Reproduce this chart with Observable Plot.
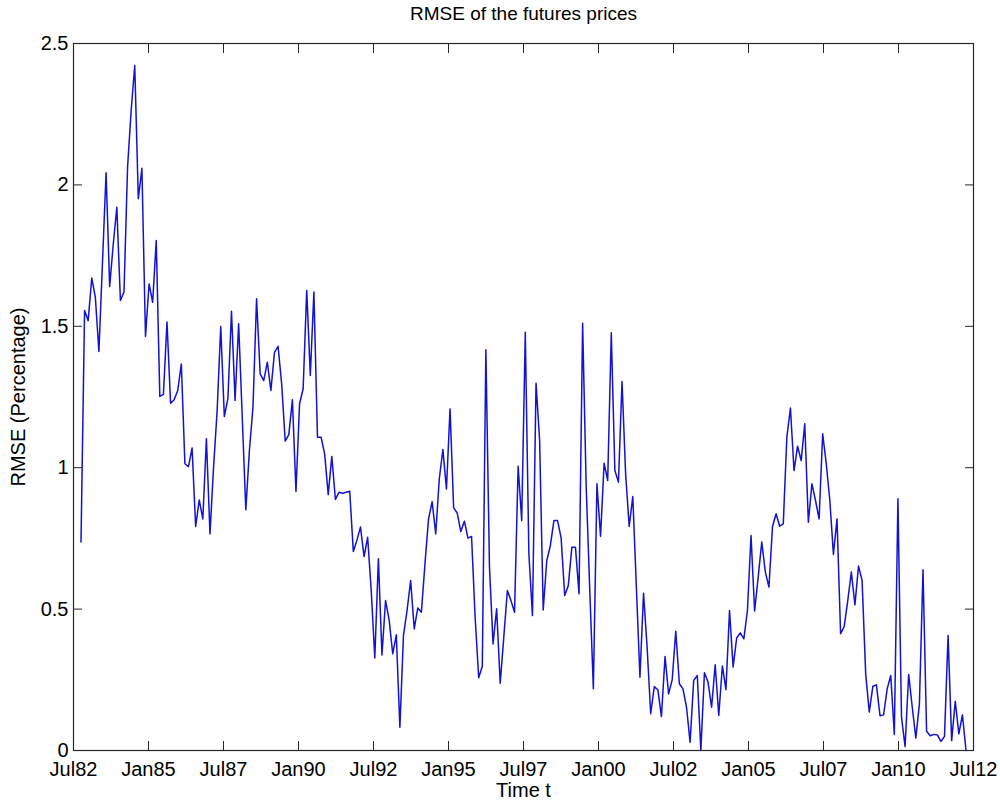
<!DOCTYPE html>
<html>
<head>
<meta charset="utf-8">
<script src="https://cdn.jsdelivr.net/npm/d3@7"></script>
<script src="https://cdn.jsdelivr.net/npm/@observablehq/plot@0.6"></script>
<style>
  html, body { margin: 0; padding: 0; background: #fff; }
  svg { display: block; }
</style>
</head>
<body>
<script>
// RMSE (percentage) of the futures prices
const rmse = [
  0.737, 1.556, 1.520, 1.671, 1.603, 1.411, 1.727, 2.043, 1.641, 1.790,
  1.921, 1.591, 1.621, 2.063, 2.263, 2.422, 1.951, 2.059, 1.464, 1.650,
  1.585, 1.803, 1.252, 1.259, 1.515, 1.228, 1.240, 1.273, 1.367, 1.014,
  1.004, 1.070, 0.792, 0.886, 0.819, 1.102, 0.766, 1.002, 1.202, 1.499,
  1.181, 1.244, 1.553, 1.238, 1.509, 1.179, 0.851, 1.061, 1.214, 1.597,
  1.332, 1.308, 1.373, 1.273, 1.408, 1.429, 1.297, 1.094, 1.117, 1.240,
  0.916, 1.226, 1.279, 1.627, 1.326, 1.621, 1.108, 1.108, 1.049, 0.905,
  1.040, 0.888, 0.913, 0.910, 0.913, 0.917, 0.704, 0.743, 0.790, 0.686,
  0.754, 0.566, 0.327, 0.678, 0.338, 0.530, 0.462, 0.342, 0.409, 0.082,
  0.407, 0.495, 0.601, 0.430, 0.504, 0.489, 0.660, 0.819, 0.880, 0.766,
  0.961, 1.064, 0.925, 1.208, 0.858, 0.840, 0.774, 0.811, 0.751, 0.757,
  0.471, 0.257, 0.298, 1.417, 0.650, 0.377, 0.501, 0.238, 0.401, 0.566,
  0.530, 0.489, 1.005, 0.813, 1.479, 0.695, 0.477, 1.299, 1.096, 0.497,
  0.672, 0.725, 0.813, 0.813, 0.752, 0.548, 0.583, 0.719, 0.719, 0.554,
  1.511, 0.931, 0.566, 0.218, 0.943, 0.758, 1.016, 0.955, 1.477, 0.990,
  0.949, 1.305, 0.978, 0.792, 0.898, 0.578, 0.259, 0.556, 0.365, 0.130,
  0.226, 0.215, 0.120, 0.332, 0.200, 0.250, 0.422, 0.236, 0.218, 0.153,
  0.029, 0.248, 0.265, 0.000, 0.275, 0.242, 0.153, 0.303, 0.124, 0.299,
  0.215, 0.495, 0.295, 0.398, 0.416, 0.395, 0.495, 0.760, 0.493, 0.613,
  0.737, 0.631, 0.578, 0.792, 0.837, 0.793, 0.801, 1.108, 1.211, 0.990,
  1.076, 1.025, 1.155, 0.807, 0.943, 0.884, 0.819, 1.120, 1.014, 0.884,
  0.693, 0.819, 0.413, 0.438, 0.530, 0.631, 0.515, 0.652, 0.601, 0.271,
  0.136, 0.227, 0.232, 0.123, 0.126, 0.218, 0.265, 0.057, 0.890, 0.118,
  0.014, 0.269, 0.153, 0.044, 0.165, 0.639, 0.068, 0.052, 0.057, 0.055,
  0.032, 0.050, 0.407, 0.035, 0.174, 0.059, 0.126, 0.000
];

// first and last sample times (decimal years), samples evenly spaced between
const sampleStart = 1982.75;
const sampleEnd = 2012.25;

const xTickValues = [1982.5, 1985, 1987.5, 1990, 1992.5, 1995, 1997.5, 2000, 2002.5, 2005, 2007.5, 2010, 2012.5];
const xTickLabels = ["Jul82", "Jan85", "Jul87", "Jan90", "Jul92", "Jan95", "Jul97", "Jan00", "Jul02", "Jan05", "Jul07", "Jan10", "Jul12"];
const yTickValues = [0, 0.5, 1, 1.5, 2, 2.5];
const yTickLabels = ["0", "0.5", "1", "1.5", "2", "2.5"];

const titleText = "RMSE of the futures prices";
const xLabel = "Time t";
const yLabel = "RMSE (Percentage)";

const step = (sampleEnd - sampleStart) / (rmse.length - 1);
const data = rmse.map((v, i) => ({t: sampleStart + i * step, v}));
const xLab = new Map(xTickValues.map((d, i) => [d, xTickLabels[i]]));
const yLab = new Map(yTickValues.map((d, i) => [d, yTickLabels[i]]));

const axisColor = "#262626";
const tickLen = 9;

const chart = Plot.plot({
  width: 1000,
  height: 802,
  marginLeft: 73,
  marginRight: 27,
  marginTop: 43,
  marginBottom: 52,
  style: {fontFamily: "'Liberation Sans', Arial, Helvetica, sans-serif", fontSize: "20px", color: "#000", background: "#fff"},
  x: {domain: [1982.5, 2012.5]},
  y: {domain: [0, 2.5]},
  marks: [
    Plot.line(data, {x: "t", y: "v", stroke: "#1212d2", strokeWidth: 1.5}),
    // inward ticks on all four sides
    Plot.axisX(xTickValues, {anchor: "bottom", tickSize: -tickLen, tickFormat: () => "", stroke: axisColor, label: null}),
    Plot.axisX(xTickValues, {anchor: "top", tickSize: -tickLen, tickFormat: () => "", stroke: axisColor, label: null}),
    Plot.axisY(yTickValues, {anchor: "left", tickSize: -tickLen, tickFormat: () => "", stroke: axisColor, label: null}),
    Plot.axisY(yTickValues, {anchor: "right", tickSize: -tickLen, tickFormat: () => "", stroke: axisColor, label: null}),
    // tick labels
    Plot.axisX(xTickValues, {anchor: "bottom", tickSize: 0, tickPadding: 11, tickFormat: d => xLab.get(d), fontSize: 20, label: null}),
    Plot.axisY(yTickValues, {anchor: "left", tickSize: 0, tickPadding: 5, tickFormat: d => yLab.get(d), fontSize: 20, label: null}),
    Plot.frame({stroke: axisColor, strokeWidth: 1.2}),
    // title and axis titles
    Plot.text([titleText], {frameAnchor: "top", dy: -30, lineAnchor: "middle", fontSize: 19, fill: "#000"}),
    Plot.text([xLabel], {frameAnchor: "bottom", dy: 40, lineAnchor: "middle", fontSize: 20, fill: "#000"}),
    Plot.text([yLabel], {frameAnchor: "left", dx: -55, rotate: -90, textAnchor: "middle", lineAnchor: "middle", fontSize: 20, fill: "#000"})
  ]
});
document.body.appendChild(chart);
</script>
</body>
</html>
